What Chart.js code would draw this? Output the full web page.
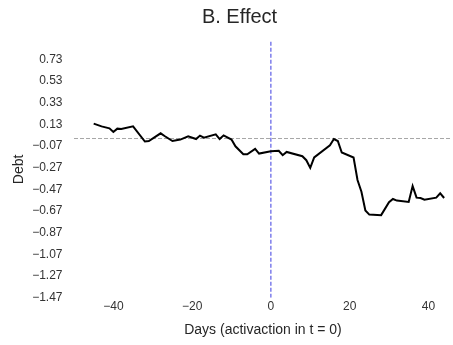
<!DOCTYPE html>
<html>
<head>
<meta charset="utf-8">
<script src="https://cdn.jsdelivr.net/npm/chart.js@4"></script>
<style>
  html, body { margin: 0; padding: 0; background: #fff; }
  #wrap { width: 453px; height: 345px; position: relative; }
</style>
</head>
<body>
<div id="wrap"><canvas id="effectChart"></canvas></div>
<script>
// datos
const days = [-45, -43, -41, -40, -39, -38, -35, -32, -31, -28, -27, -25, -23, -21,
    -19, -18, -17, -14, -13, -12, -10, -9, -7, -6, -4, -3, 0, 2,
    3, 4, 8, 9, 10, 11, 15, 16, 17, 18, 21, 22, 23, 24,
    25, 28, 30, 31, 32, 35, 36, 37, 38, 39, 42, 43, 44];
const debt = [0.137, 0.112, 0.094, 0.060, 0.091, 0.087, 0.112, -0.028, -0.023, 0.048, 0.023, -0.023, -0.010, 0.020,
    -0.005, 0.027, 0.008, 0.039, -0.005, 0.029, -0.010, -0.072, -0.145, -0.145, -0.096, -0.139, -0.117, -0.113,
    -0.154, -0.124, -0.163, -0.200, -0.271, -0.175, -0.062, -0.005, -0.023, -0.129, -0.175, -0.383, -0.491, -0.665,
    -0.702, -0.707, -0.588, -0.558, -0.573, -0.585, -0.439, -0.546, -0.549, -0.564, -0.546, -0.506, -0.549];
const yTicks = [0.73, 0.53, 0.33, 0.13, -0.07, -0.27, -0.47, -0.67, -0.87, -1.07, -1.27, -1.47];
const xTicks = [-40, -20, 0, 20, 40];
const xRange = [-50, 46];
const yRange = [-1.47, 0.9];

Chart.defaults.font.family = "'Liberation Sans', Arial, sans-serif";
Chart.defaults.color = '#333';

const fmt = (v, d) => (v < 0 ? '\u2212' : '') + Math.abs(v).toFixed(d);

// título dibujado a mano para poder centrarlo donde está en la imagen
const titlePlugin = {
    id: 'plotTitle',
    afterDraw(chart) {
        const ctx = chart.ctx;
        ctx.save();
        ctx.font = "20px 'Liberation Sans', Arial, sans-serif";
        ctx.fillStyle = '#262626';
        ctx.textAlign = 'center';
        ctx.textBaseline = 'middle';
        ctx.fillText('B. Effect', 239.5, 17.5);
        ctx.restore();
    }
};

const data = {
    datasets: [
        {
            label: 'Debt',
            data: days.map((d, i) => ({ x: d, y: debt[i] })),
            borderColor: '#000',
            borderWidth: 2,
            pointRadius: 0,
            tension: 0,
            order: 0
        },
        {
            label: 'zero',
            data: [{ x: xRange[0], y: 0 }, { x: xRange[1], y: 0 }],
            borderColor: '#a6a6a6',
            borderWidth: 1,
            borderDash: [4, 2],
            pointRadius: 0,
            order: 2
        },
        {
            label: 't = 0',
            data: [{ x: 0, y: yRange[0] }, { x: 0, y: yRange[1] }],
            borderColor: '#5b5be6',
            borderWidth: 1.2,
            borderDash: [4, 2],
            pointRadius: 0,
            order: 1
        }
    ]
};

const options = {
    responsive: true,
    maintainAspectRatio: false,
    animation: false,
    layout: { padding: { top: 41, right: 1, left: 0, bottom: 2 } },
    plugins: {
        legend: { display: false },
        tooltip: { enabled: false },
        title: { display: false }
    },
    scales: {
        x: {
            type: 'linear',
            min: xRange[0],
            max: xRange[1],
            grid: { display: false, drawTicks: false },
            border: { display: false },
            afterBuildTicks: axis => { axis.ticks = xTicks.map(v => ({ value: v })); },
            ticks: {
                padding: 2,
                maxRotation: 0,
                font: { size: 12 },
                callback: v => fmt(v, 0)
            },
            title: {
                display: true,
                text: 'Days (activaction in t = 0)',
                font: { size: 14 },
                color: '#262626',
                padding: { top: 6, bottom: 4 }
            }
        },
        y: {
            type: 'linear',
            min: yRange[0],
            max: yRange[1],
            grid: { display: false, drawTicks: false },
            border: { display: false },
            afterBuildTicks: axis => { axis.ticks = yTicks.map(v => ({ value: v })); },
            afterFit: axis => { axis.width = 74; },
            ticks: {
                padding: 11.5,
                font: { size: 12 },
                callback: v => fmt(v, 2)
            },
            title: {
                display: true,
                text: 'Debt',
                font: { size: 14 },
                color: '#262626',
                padding: { top: 11, bottom: 4 }
            }
        }
    }
};

new Chart(document.getElementById('effectChart'), {
    type: 'line',
    data: data,
    options: options,
    plugins: [titlePlugin]
});
</script>
</body>
</html>
